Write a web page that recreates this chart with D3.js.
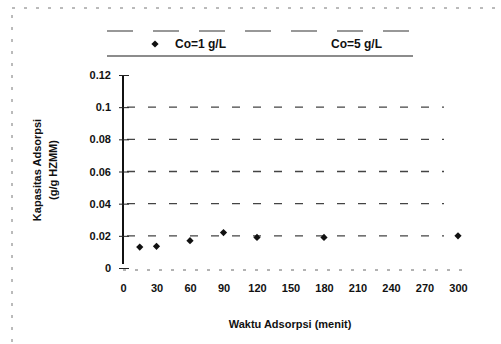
<!DOCTYPE html>
<html>
<head>
<meta charset="utf-8">
<script src="https://cdn.jsdelivr.net/npm/d3@7/dist/d3.min.js"></script>
<style>
  html, body { margin: 0; padding: 0; background: #fff; }
  svg { display: block; font-family: "Liberation Sans", Arial, sans-serif; }
</style>
</head>
<body>
<svg id="chart" width="501" height="344"></svg>
<script>
// Adsorption capacity over contact time
const times = [15, 30, 60, 90, 120, 180, 300];
const capacityCo1 = [0.013, 0.0135, 0.017, 0.022, 0.019, 0.019, 0.020];
const seriesLabels = ["Co=1 g/L", "Co=5 g/L"];
const xTicks = [0, 30, 60, 90, 120, 150, 180, 210, 240, 270, 300];
const yTicks = [0, 0.02, 0.04, 0.06, 0.08, 0.1, 0.12];
const yTickLabels = ["0", "0.02", "0.04", "0.06", "0.08", "0.1", "0.12"];
const xTitle = "Waktu Adsorpsi (menit)";
const yTitle = ["Kapasitas Adsorpsi", "(g/g HZMM)"];

const svg = d3.select("#chart");

// outer frame
svg.append("rect")
  .attr("x", 12).attr("y", 8).attr("width", 500).attr("height", 345)
  .attr("fill", "none").attr("stroke", "#777").attr("stroke-width", 1)
  .attr("stroke-dasharray", "3,9");

const x = d3.scaleLinear().domain([0, 300]).range([123, 458]);
const y = d3.scaleLinear().domain([0, 0.12]).range([268, 75]);

// horizontal grid
svg.append("g")
  .selectAll("line")
  .data(yTicks.filter(d => d > 0 && d < 0.12))
  .join("line")
  .attr("x1", x(0) + 4).attr("x2", x(300) - 14)
  .attr("y1", d => y(d)).attr("y2", d => y(d))
  .attr("stroke", "#444").attr("stroke-width", 1.3)
  .attr("stroke-dasharray", "8,13");

// baseline
svg.append("line")
  .attr("x1", x(0)).attr("x2", x(300) + 6)
  .attr("y1", y(0) + 2).attr("y2", y(0) + 2)
  .attr("stroke", "#666").attr("stroke-width", 1)
  .attr("stroke-dasharray", "3,9");

// y axis
const yAxis = svg.append("g")
  .attr("transform", `translate(${x(0)},0)`)
  .call(d3.axisLeft(y).tickValues(yTicks)
    .tickFormat((d, i) => yTickLabels[i]).tickSize(4).tickPadding(8));
yAxis.select(".domain").attr("stroke", "#111").attr("stroke-width", 2)
  .attr("d", `M0,${y(0.12)}V${y(0) - 4}`);
yAxis.selectAll(".tick line").attr("x1", -4).attr("x2", 6)
  .attr("stroke", "#222").attr("stroke-width", 1);
yAxis.selectAll(".tick text")
  .attr("font-size", 11).attr("font-weight", "bold").attr("fill", "#111");

// x axis
const xAxis = svg.append("g")
  .attr("transform", `translate(0,${y(0)})`)
  .call(d3.axisBottom(x).tickValues(xTicks).tickSize(0).tickPadding(16));
xAxis.select(".domain").remove();
xAxis.selectAll(".tick text")
  .attr("font-size", 11).attr("font-weight", "bold").attr("fill", "#111");

// axis titles
svg.append("text")
  .attr("x", 290).attr("y", 328)
  .attr("text-anchor", "middle")
  .attr("font-size", 11).attr("font-weight", "bold").attr("fill", "#111")
  .text(xTitle);

const yt = svg.append("text")
  .attr("transform", "translate(41,170) rotate(-90)")
  .attr("text-anchor", "middle")
  .attr("font-size", 11).attr("font-weight", "bold").attr("fill", "#111");
yt.append("tspan").attr("x", 0).attr("dy", 0).text(yTitle[0]);
yt.append("tspan").attr("x", 0).attr("dy", 16).text(yTitle[1]);

// diamond marker: a square turned 45 degrees
const marker = d3.symbol(d3.symbolSquare, 26);

// data markers
svg.append("g")
  .selectAll("path")
  .data(times.map((t, i) => [t, capacityCo1[i]]))
  .join("path")
  .attr("transform", d => `translate(${x(d[0])},${y(d[1])}) rotate(45)`)
  .attr("d", marker)
  .attr("fill", "#111");

// legend
const legend = svg.append("g");
legend.append("line")
  .attr("x1", 107).attr("x2", 413).attr("y1", 31).attr("y2", 31)
  .attr("stroke", "#333").attr("stroke-width", 1.2).attr("stroke-dasharray", "26,20");
legend.append("line")
  .attr("x1", 107).attr("x2", 413).attr("y1", 56).attr("y2", 56)
  .attr("stroke", "#666").attr("stroke-width", 1.3);
legend.append("path")
  .attr("transform", "translate(155,44) rotate(45)")
  .attr("d", marker)
  .attr("fill", "#111");
legend.selectAll("text.lab")
  .data(seriesLabels)
  .join("text")
  .attr("class", "lab")
  .attr("x", (d, i) => i === 0 ? 175 : 331)
  .attr("y", 48)
  .attr("font-size", 12).attr("font-weight", "bold").attr("fill", "#111")
  .text(d => d);
</script>
</body>
</html>
